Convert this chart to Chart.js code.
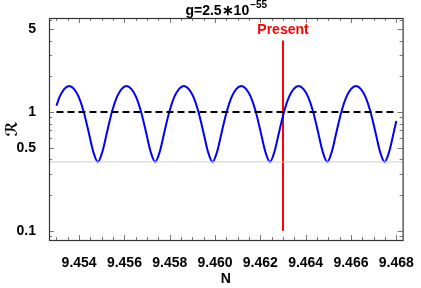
<!DOCTYPE html>
<html>
<head>
<meta charset="utf-8">
<script src="https://cdn.jsdelivr.net/npm/chart.js@4/dist/chart.umd.min.js"></script>
<style>
  html, body { margin: 0; padding: 0; background: #fff; }
</style>
</head>
<body>
<canvas id="ratioChart" width="421" height="288"></canvas>
<script>
// curve samples (N, R)
const nValues = [
    9.453000, 9.453138, 9.453349,
    9.453560, 9.453771, 9.453982, 9.454193, 9.454404, 9.454615, 9.454826, 9.455037, 9.455248, 9.455459, 9.455670, 9.455881,
    9.456092, 9.456303, 9.456514, 9.456725, 9.456936, 9.457147, 9.457358, 9.457569, 9.457780, 9.457991, 9.458202, 9.458413,
    9.458624, 9.458835, 9.459046, 9.459257, 9.459468, 9.459679, 9.459890, 9.460101, 9.460312, 9.460523, 9.460734, 9.460945,
    9.461156, 9.461367, 9.461578, 9.461789, 9.462000, 9.462211, 9.462422, 9.462633, 9.462844, 9.463055, 9.463266, 9.463477,
    9.463688, 9.463899, 9.464110, 9.464321, 9.464532, 9.464743, 9.464954, 9.465165, 9.465376, 9.465587, 9.465798, 9.466009,
    9.466220, 9.466431, 9.466642, 9.466853, 9.467064, 9.467275, 9.467486, 9.467697, 9.467908,
    9.468000
];
const rValues = [
    1.13, 1.34, 1.57,
    1.66, 1.57, 1.34, 1.02, 0.70, 0.47, 0.38, 0.47, 0.70, 1.02, 1.34, 1.57,
    1.66, 1.57, 1.34, 1.02, 0.70, 0.47, 0.38, 0.47, 0.70, 1.02, 1.34, 1.57,
    1.66, 1.57, 1.34, 1.02, 0.70, 0.47, 0.38, 0.47, 0.70, 1.02, 1.34, 1.57,
    1.66, 1.57, 1.34, 1.02, 0.70, 0.47, 0.38, 0.47, 0.70, 1.02, 1.34, 1.57,
    1.66, 1.57, 1.34, 1.02, 0.70, 0.47, 0.38, 0.47, 0.70, 1.02, 1.34, 1.57,
    1.66, 1.57, 1.34, 1.02, 0.70, 0.47, 0.38, 0.47, 0.70,
    0.84
];

const refLevel = 1;          // dashed line
const floorLevel = 0.38;     // gray line
const presentN = 9.463;
const presentRange = [0.1, 4];
const presentLabelR = 4.9;

const xTicks = [9.454, 9.456, 9.458, 9.460, 9.462, 9.464, 9.466, 9.468];
const yTicks = [0.1, 0.5, 1, 5];
const yMinorTicks = [0.09, 0.2, 0.3, 0.4, 0.6, 0.7, 0.8, 0.9, 2, 3, 4, 6];

const xMin = 9.45267, xMax = 9.46828;
const yMin = 0.0835, yMax = 6.2;

const FONT = "'Liberation Sans', Arial, sans-serif";

// minor x ticks every 0.0005
const xMinorTicks = [];
for (let i = 0; i <= 30; i++) xMinorTicks.push(9.453 + i * 0.0005);

// Frame, inner ticks, title and "Present" label
const framePlugin = {
    id: 'frame',
    afterDraw(chart) {
        const { ctx, chartArea: a, scales } = chart;
        const xs = scales.x, ys = scales.y;
        ctx.save();

        // tick marks on all four sides
        ctx.strokeStyle = '#777';
        ctx.lineWidth = 1;
        ctx.beginPath();
        xMinorTicks.forEach(v => {
            const px = Math.round(xs.getPixelForValue(v)) + 0.5;
            const major = xTicks.some(t => Math.abs(t - v) < 1e-7);
            const len = major ? 5 : 3;
            ctx.moveTo(px, a.bottom); ctx.lineTo(px, a.bottom - len);
            ctx.moveTo(px, a.top); ctx.lineTo(px, a.top + len);
        });
        yTicks.concat(yMinorTicks).forEach(v => {
            const py = Math.round(ys.getPixelForValue(v)) + 0.5;
            if (py < a.top || py > a.bottom) return;
            const len = yTicks.includes(v) ? 5 : 3;
            ctx.moveTo(a.left, py); ctx.lineTo(a.left + len, py);
            ctx.moveTo(a.right, py); ctx.lineTo(a.right - len, py);
        });
        ctx.stroke();

        // frame
        ctx.strokeStyle = '#333';
        ctx.lineWidth = 1.2;
        ctx.strokeRect(a.left + 0.5, a.top + 0.5, a.right - a.left, a.bottom - a.top);

        // title with superscript
        const main = 'g=2.5\u221710';
        const sup = '\u221255';
        ctx.fillStyle = '#000';
        ctx.textBaseline = 'alphabetic';
        ctx.font = 'bold 14px ' + FONT;
        const w1 = ctx.measureText(main).width;
        ctx.font = 'bold 10px ' + FONT;
        const w2 = ctx.measureText(sup).width;
        const x0 = (a.left + a.right) / 2 - (w1 + w2) / 2;
        ctx.font = 'bold 14px ' + FONT;
        ctx.textAlign = 'left';
        ctx.fillText(main, x0, 15);
        ctx.font = 'bold 10px ' + FONT;
        ctx.fillText(sup, x0 + w1 + 1, 8);

        // Present label
        ctx.fillStyle = '#ff0000';
        ctx.font = 'bold 14px ' + FONT;
        ctx.textAlign = 'center';
        ctx.textBaseline = 'middle';
        ctx.fillText('Present', xs.getPixelForValue(presentN), ys.getPixelForValue(presentLabelR));

        ctx.restore();
    }
};

new Chart(document.getElementById('ratioChart'), {
    type: 'line',
    data: {
        datasets: [{
            // gray floor line
            data: [{ x: xMin, y: floorLevel }, { x: xMax, y: floorLevel }],
            borderColor: '#cccccc',
            borderWidth: 1,
            pointRadius: 0
        }, {
            // dashed reference at R = 1
            data: [{ x: nValues[0], y: refLevel }, { x: nValues[nValues.length - 1], y: refLevel }],
            borderColor: '#000000',
            borderWidth: 2,
            borderDash: [7, 4],
            pointRadius: 0
        }, {
            data: nValues.map((n, i) => ({ x: n, y: rValues[i] })),
            borderColor: '#0000ff',
            borderWidth: 2,
            cubicInterpolationMode: 'monotone',
            pointRadius: 0
        }, {
            // "Present" marker
            data: [{ x: presentN, y: presentRange[0] }, { x: presentN, y: presentRange[1] }],
            borderColor: '#ff0000',
            borderWidth: 2,
            pointRadius: 0
        }]
    },
    options: {
        responsive: false,
        animation: false,
        events: [],
        layout: {
            padding: { top: 18, right: 13, left: 0, bottom: 0 }
        },
        plugins: {
            legend: { display: false },
            tooltip: { enabled: false },
            title: { display: false }
        },
        scales: {
            x: {
                type: 'linear',
                min: xMin,
                max: xMax,
                grid: { display: false },
                border: { display: false },
                afterBuildTicks: (scale) => {
                    scale.ticks = xTicks.map(v => ({ value: v }));
                },
                afterFit: (scale) => { scale.height = 48; },
                ticks: {
                    autoSkip: false,
                    maxRotation: 0,
                    padding: 7,
                    color: '#000',
                    font: { family: FONT, size: 14, weight: 'bold' },
                    callback: (v) => Number(v).toFixed(3)
                },
                title: {
                    display: true,
                    text: 'N',
                    color: '#000',
                    padding: 0,
                    font: { family: FONT, size: 14, weight: 'bold' }
                }
            },
            y: {
                type: 'logarithmic',
                min: yMin,
                max: yMax,
                grid: { display: false },
                border: { display: false },
                afterBuildTicks: (scale) => {
                    scale.ticks = yTicks.map(v => ({ value: v }));
                },
                afterFit: (scale) => { scale.width = 49; },
                ticks: {
                    autoSkip: false,
                    padding: 5,
                    color: '#000',
                    font: { family: FONT, size: 14, weight: 'bold' },
                    callback: (v) => String(v)
                },
                title: {
                    display: true,
                    text: '\u211B',
                    color: '#000',
                    padding: { top: 3, bottom: 0 },
                    font: { family: "'DejaVu Sans', sans-serif", size: 16, weight: 'bold' }
                }
            }
        }
    },
    plugins: [framePlugin]
});
</script>
</body>
</html>
